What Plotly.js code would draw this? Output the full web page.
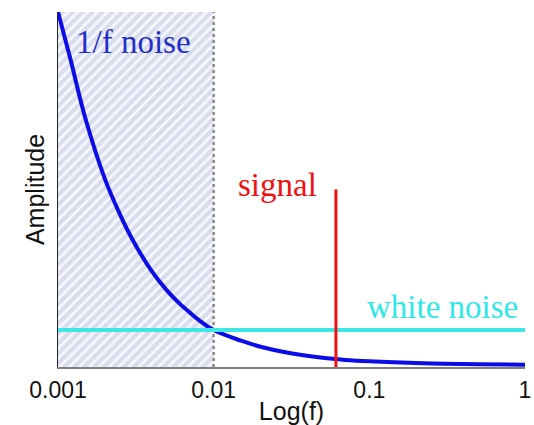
<!DOCTYPE html>
<html>
<head>
<meta charset="utf-8">
<script src="https://cdn.plot.ly/plotly-3.0.1.min.js"></script>
<style>html,body{margin:0;padding:0;background:#fff;}#chart{width:534px;height:425px;}</style>
</head>
<body>
<div id="chart"></div>
<script>
// Data
const freq = [0.001, 0.0012, 0.0015, 0.002, 0.0025, 0.003, 0.004, 0.005, 0.006, 0.007, 0.008, 0.01, 0.015, 0.02, 0.03, 0.05, 0.07, 0.1, 0.2, 0.3, 0.5, 1];
const oneOverF = [100, 86.8, 70, 53, 43, 36, 27, 21.6, 18, 15.4, 13.3, 10.4, 7.4, 5.7, 4.0, 2.6, 2.0, 1.6, 1.1, 0.9, 0.75, 0.65];
const whiteX = [0.001, 1];
const whiteY = [10.4, 10.4];
const signalX = [0.061, 0.061];
const signalY = [0, 50];
const shadeX = [0.001, 0.01, 0.01, 0.001, 0.001];
const shadeY = [0, 0, 100, 100, 0];
const dividerX = [0.01, 0.01];
const dividerY = [0, 100];
const tickVals = [0.001, 0.01, 0.1, 1];
const tickText = ["0.001", "0.01", "0.1", "1"];

const traces = [
  {x: shadeX, y: shadeY, mode: 'lines', fill: 'toself', line: {width: 0},
   fillcolor: 'rgba(0,0,0,0)',
   fillpattern: {shape: '/', fgcolor: '#f7f8fc', bgcolor: '#d9dcec', size: 7, solidity: 0.4},
   hoverinfo: 'skip'},
  {x: dividerX, y: dividerY, mode: 'lines', line: {color: '#8a8a8a', width: 2.5, dash: 'dot'}},
  {x: freq, y: oneOverF, mode: 'lines', line: {color: '#0c0ce6', width: 4, shape: 'spline'}, cliponaxis: false},
  {x: whiteX, y: whiteY, mode: 'lines', line: {color: '#3fe6e6', width: 4}},
  {x: signalX, y: signalY, mode: 'lines', line: {color: '#f01010', width: 3}}
];

const layout = {
  width: 534, height: 425,
  margin: {l: 58, r: 9, t: 12, b: 58},
  paper_bgcolor: '#fff', plot_bgcolor: '#fff',
  showlegend: false,
  font: {family: 'Liberation Sans, Arial, sans-serif', color: '#000', size: 23},
  xaxis: {type: 'log', range: [-3, 0], tickvals: tickVals, ticktext: tickText,
    showgrid: false, zeroline: false, showline: true, linecolor: '#808080', linewidth: 2,
    ticks: '', tickfont: {size: 23, color: '#111'}, ticklabelstandoff: 1,
    title: {text: 'Log(f)', font: {size: 25, color: '#111'}, standoff: 3}},
  yaxis: {range: [0, 100], showgrid: false, zeroline: false, showline: true, linecolor: '#222', linewidth: 1,
    showticklabels: false, ticks: '',
    title: {text: 'Amplitude', font: {size: 25, color: '#111'}, standoff: 5}},
  annotations: [
    {xref: 'paper', yref: 'paper', x: 0.034, y: 0.915, xanchor: 'left', yanchor: 'middle', showarrow: false,
     text: '1/f noise', font: {family: 'Liberation Serif, Times New Roman, serif', size: 33, color: '#1f2fc8'}},
    {xref: 'paper', yref: 'paper', x: 0.381, y: 0.513, xanchor: 'left', yanchor: 'middle', showarrow: false,
     text: 'signal', font: {family: 'Liberation Serif, Times New Roman, serif', size: 33, color: '#f01010'}},
    {xref: 'paper', yref: 'paper', x: 0.99, y: 0.169, xanchor: 'right', yanchor: 'middle', showarrow: false,
     text: 'white noise', font: {family: 'Liberation Serif, Times New Roman, serif', size: 33, color: '#2ee8e8'}}
  ]
};

Plotly.newPlot('chart', traces, layout, {displayModeBar: false, staticPlot: true});
</script>
</body>
</html>
